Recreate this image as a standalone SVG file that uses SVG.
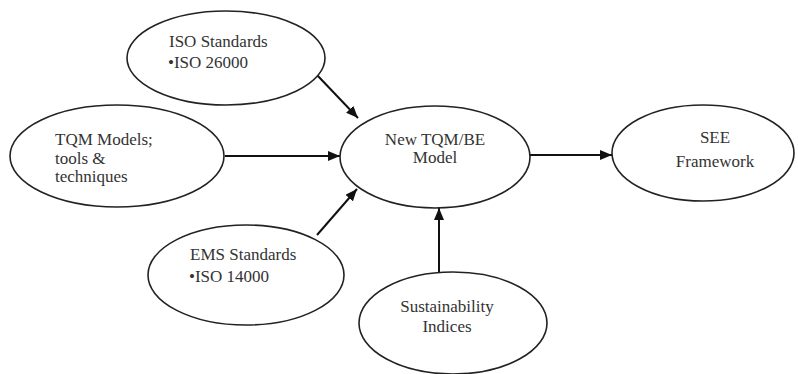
<svg xmlns="http://www.w3.org/2000/svg" width="798" height="374" viewBox="0 0 798 374">
<style>
.n ellipse{fill:#fff;stroke:#222;stroke-width:1.6}
text{font-family:"Liberation Serif","DejaVu Serif","Times New Roman",serif;font-size:17px;fill:#333}
.c{text-anchor:middle}
.e line{stroke:#111;stroke-width:2}
</style>
<defs>
<marker id="ah" viewBox="0 0 12 10" refX="12" refY="5" markerWidth="12" markerHeight="10" markerUnits="userSpaceOnUse" orient="auto">
<path d="M0,0 L12,5 L0,10 Z" fill="#111"/>
</marker>
</defs>
<rect width="798" height="374" fill="#fff"/>
<g class="e" id="connectors">
<line x1="317" y1="75" x2="358" y2="118" marker-end="url(#ah)"/>
<line x1="225" y1="156" x2="340" y2="156" marker-end="url(#ah)"/>
<line x1="317" y1="235" x2="357" y2="189" marker-end="url(#ah)"/>
<line x1="439" y1="273" x2="439" y2="208" marker-end="url(#ah)"/>
<line x1="530" y1="155" x2="612" y2="155" marker-end="url(#ah)"/>
</g>
<g class="n" id="iso">
<ellipse cx="226" cy="58" rx="99" ry="47"/>
<text x="169" y="47">ISO Standards</text>
<text x="168" y="68">•ISO 26000</text>
</g>
<g class="n" id="tqm">
<ellipse cx="117" cy="156" rx="107" ry="51"/>
<text x="55" y="145">TQM Models;</text>
<text x="55" y="164">tools &amp;</text>
<text x="55" y="182">techniques</text>
</g>
<g class="n" id="ems">
<ellipse cx="246" cy="275" rx="98" ry="50"/>
<text x="190" y="260">EMS Standards</text>
<text x="189" y="282">•ISO 14000</text>
</g>
<g class="n" id="newtqm">
<ellipse cx="435" cy="157" rx="95" ry="51"/>
<text class="c" x="435" y="145">New TQM/BE</text>
<text class="c" x="435" y="163">Model</text>
</g>
<g class="n" id="sust">
<ellipse cx="453" cy="323" rx="94" ry="51"/>
<text class="c" x="447" y="312">Sustainability</text>
<text class="c" x="447" y="332">Indices</text>
</g>
<g class="n" id="see">
<ellipse cx="703" cy="153" rx="91" ry="48"/>
<text class="c" x="715" y="143">SEE</text>
<text class="c" x="715" y="167">Framework</text>
</g>
</svg>
